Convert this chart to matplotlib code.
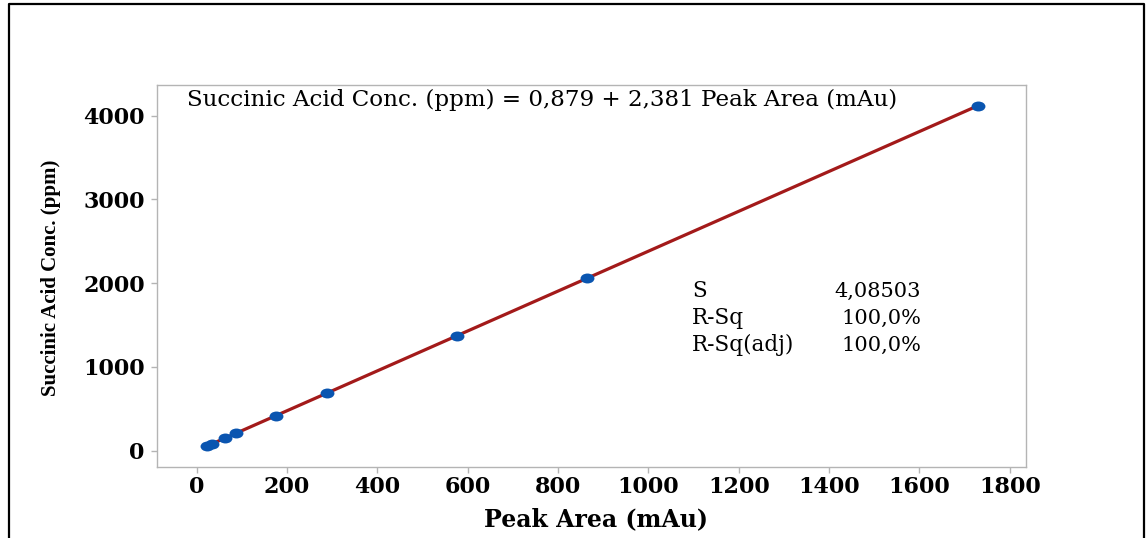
import numpy as np
import matplotlib
matplotlib.use("Agg")
import matplotlib.pyplot as plt
from matplotlib.path import Path
from matplotlib.lines import Line2D
from matplotlib.transforms import Affine2D

# Data
peak_area = [22, 35, 63, 88, 175, 289, 576, 864, 1729]
conc_ppm = [51, 82, 154, 206, 412, 686, 1372, 2058, 4116]
intercept = 0.879
slope = 2.381
x_ticks = [0, 200, 400, 600, 800, 1000, 1200, 1400, 1600, 1800]
y_ticks = [0, 1000, 2000, 3000, 4000]
equation_text = "Succinic Acid Conc. (ppm) = 0,879 + 2,381 Peak Area (mAu)"
stat_labels = ["S", "R-Sq", "R-Sq(adj)"]
stat_values = ["4,08503", "100,0%", "100,0%"]

W, H = 1146, 538
fig = plt.figure(figsize=(W / 100, H / 100), dpi=100)
fig.patch.set_facecolor("white")

ax = fig.add_axes([157.3 / W, 1 - 466.7 / H, (1025.7 - 157.3) / W, (466.7 - 85) / H])

# fitted line
xf = np.array([min(peak_area), max(peak_area)])
ax.plot(xf, intercept + slope * xf, color="#A31A1A", lw=2.3, zorder=2, solid_capstyle="round")

# elliptical markers
ell = Path.unit_circle().transformed(Affine2D().scale(1.4, 1.0))
ax.plot(peak_area, conc_ppm, ls="none", marker=ell, markersize=10,
        color="#0A55B0", markeredgewidth=0, zorder=3)

ax.set_xlim(-87.2, 1835.3)
ax.set_ylim(-191, 4366)
ax.set_xticks(x_ticks)
ax.set_yticks(y_ticks)

for sp in ax.spines.values():
    sp.set_color("#B4B4B4")
    sp.set_linewidth(1.0)

ax.tick_params(axis="both", direction="out", length=4, width=1, color="#B4B4B4")
ax.tick_params(axis="y", pad=5)
ax.tick_params(axis="x", pad=3)
for lab in ax.get_xticklabels() + ax.get_yticklabels():
    lab.set_fontfamily("DejaVu Serif")
    lab.set_fontweight("bold")
    lab.set_fontsize(16)

ax.set_xlabel("Peak Area (mAu)", fontfamily="DejaVu Serif", fontweight="bold", fontsize=17)
ax.xaxis.set_label_coords((596 - 157.3) / 868.4, (466.7 - 519) / 381.7)
ax.xaxis.label.set_va("center")
ax.set_ylabel("Succinic Acid Conc. (ppm)", fontfamily="Liberation Serif", fontweight="bold", fontsize=15)
ax.yaxis.set_label_coords((51 - 157.3) / 868.4, (466.7 - 278) / 381.7)
ax.yaxis.label.set_va("center")

# Equation
fig.text(187 / W, 1 - 100 / H, equation_text, ha="left", va="center",
         fontfamily="DejaVu Serif", fontsize=16.6)

# Stats table
for i, (lab, val) in enumerate(zip(stat_labels, stat_values)):
    yy = 1 - (291 + 27 * i) / H
    fig.text(692 / W, yy, lab, ha="left", va="center", fontfamily="DejaVu Serif", fontsize=15.5)
    fig.text(921 / W, yy, val, ha="right", va="center", fontfamily="DejaVu Serif", fontsize=15)

# Outer frame (left, top, right)
fx0, fx1, fy1 = 8.5 / W, 1144 / W, 1 - 3.5 / H
fig.add_artist(Line2D([fx0, fx0, fx1, fx1], [0, fy1, fy1, 0], color="black", lw=1.6,
                      transform=fig.transFigure))

fig.savefig("out.png", dpi=100)
